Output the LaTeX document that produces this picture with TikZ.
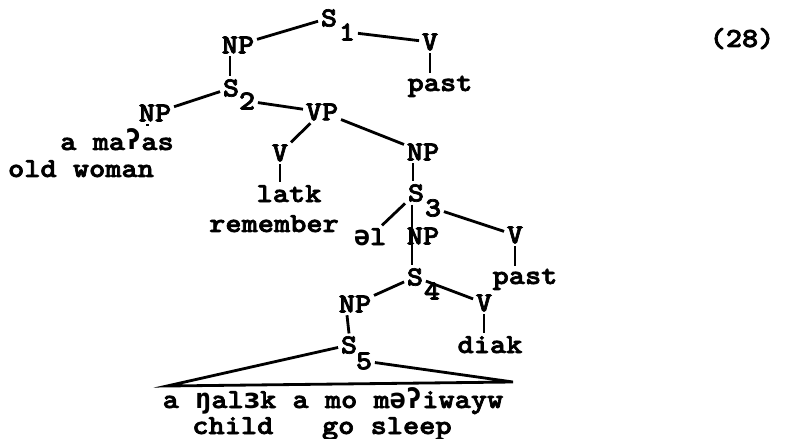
\documentclass[tikz,border=0pt]{standalone}
\usepackage{fontspec}
\setmonofont{lmmonolt10-bold.otf}[FakeStretch=1.12, FakeBold=2.5]
\newfontfamily\ipafont{DejaVu Sans Mono}[FakeStretch=0.98]
\newcommand{\ip}[1]{{\ipafont\bfseries #1}}
\begin{document}
\begin{tikzpicture}[x=0.025cm, y=-0.025cm, line width=2pt,
  every node/.style={font=\ttfamily\fontsize{19.6}{22}\selectfont, inner sep=1pt},
  w/.style={anchor=base}]
  \useasboundingbox (0,0) rectangle (796,439);
  \node (s1) at (329,18) {S};
  \node (s1n) at (347,32) {1};
  \node (np1) at (238,45) {NP};
  \node (v1) at (430,42) {V};
  \node[w] (p1) at (440,91) {past};
  \node (s2) at (231,88) {S};
  \node (s2n) at (247,101) {2};
  \node (np2) at (155,113) {NP};
  \node (vp) at (322,112) {VP};
  \node[w] (w1) at (117,150) {a ma\ip{ʔ}as};
  \node[w] (g1) at (81,177) {old woman};
  \node (v2) at (280,153) {V};
  \node[w] (w2) at (289,202) {latk};
  \node[w] (g2) at (274,232) {remember};
  \node (np3) at (423,152) {NP};
  \node (s3) at (416,193) {S};
  \node (s3n) at (433,208) {3};
  \node[w] (el) at (370,245) {\ip{ə}l};
  \node (np4) at (423,236) {NP};
  \node (v3) at (515,235) {V};
  \node[w] (p2) at (525,284) {past};
  \node (s4) at (415,277) {S};
  \node (s4n) at (432,291) {4};
  \node (np5) at (355,304) {NP};
  \node (v4) at (484,303) {V};
  \node[w] (w4) at (490,353) {diak};
  \node (s5) at (349,345) {S};
  \node (s5n) at (364,361) {5};
  \coordinate (tl) at (167,386);
  \coordinate (tr) at (513,382);
  \node[w] (w5) at (333,408) {a \ip{ŋ}al\ip{ɜ}k a mo m\ip{ə}\ip{ʔ}iwayw};
  \node[w] (g5) at (322,434) {child\ \ \ go sleep};
  \node[w] (ex) at (742,47) {(28)};
  \draw (np1) -- (s1);
  \draw (s1n) -- (v1);
  \draw (v1) -- (v1 |- p1.north);
  \draw ([xshift=-.2cm]np1.south) -- ([xshift=-.2cm]np1.south |- s2.north);
  \draw (s2) -- (np2);
  \draw (s2n) -- (vp);
  \draw ([xshift=-.18cm]np2.south) -- ([xshift=-.18cm]np2.south |- w1.north);
  \draw (vp) -- (v2);
  \draw (vp) -- (np3);
  \draw (v2) -- (v2 |- w2.north);
  \draw ([xshift=-.25cm]np3.south) -- ([xshift=-.25cm]np3.south |- s3.north);
  \draw (s3) -- (el);
  \draw (s3n) -- (v3);
  \draw ([xshift=-.1cm]s3.south) -- ([xshift=-.1cm]s3.south |- s4.north);
  \draw (v3) -- (v3 |- p2.north);
  \draw (s4) -- (np5);
  \draw (s4) -- (v4);
  \draw (v4) -- (v4 |- w4.north);
  \draw ([xshift=-.2cm]np5.south) -- (s5.north);
  \draw (s5) -- (tl) -- (tr) -- (s5n);
\end{tikzpicture}
\end{document}
